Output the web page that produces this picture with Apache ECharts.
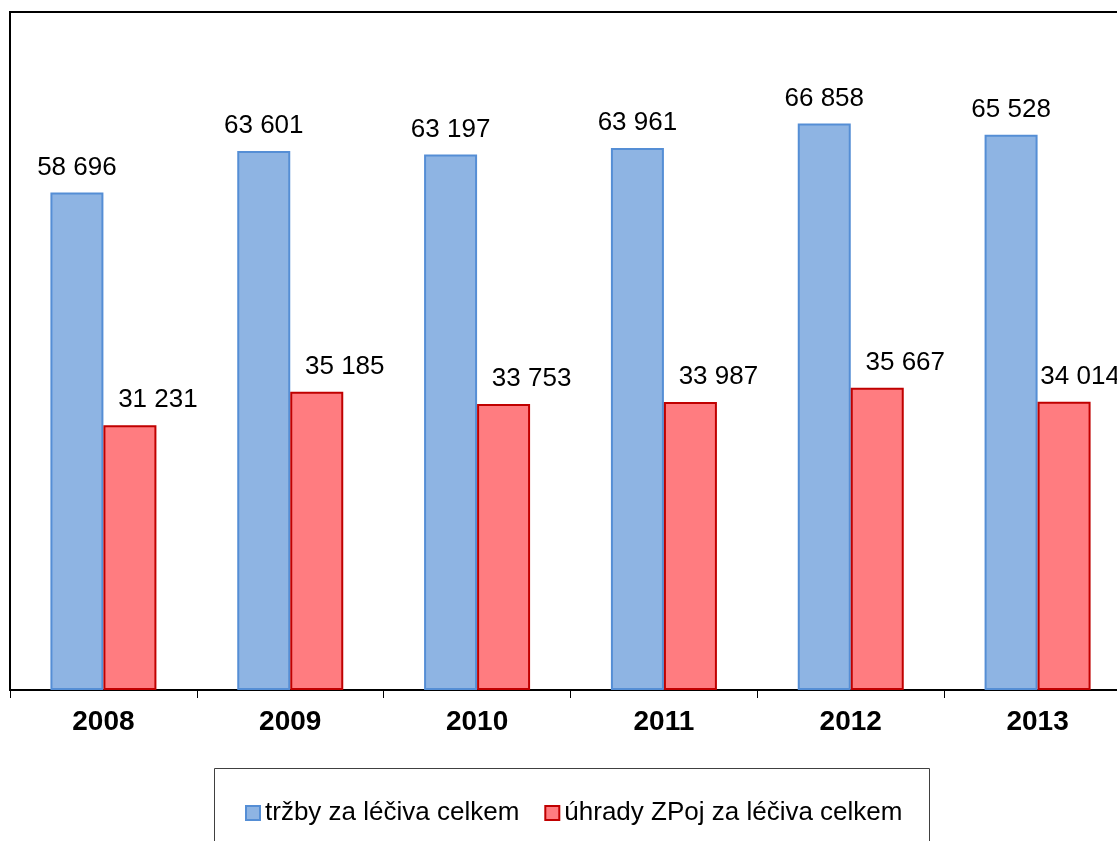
<!DOCTYPE html>
<html>
<head>
<meta charset="utf-8">
<script src="https://cdn.jsdelivr.net/npm/echarts@6/dist/echarts.min.js"></script>
<style>html,body{margin:0;padding:0;background:#fff;overflow:hidden;width:1117px;height:841px;}#c{width:1140px;height:841px;}</style>
</head>
<body>
<div id="c"></div>
<script>
const categories = ['2008', '2009', '2010', '2011', '2012', '2013'];
const seriesNames = ['tržby za léčiva celkem', 'úhrady ZPoj za léčiva celkem'];
const trzby = [58696, 63601, 63197, 63961, 66858, 65528];
const uhrady = [31231, 35185, 33753, 33987, 35667, 34014];

const FONT = '"Liberation Sans", Arial, sans-serif';
function fmt(v) {
  return String(v).replace(/\B(?=(\d{3})+(?!\d))/g, ' ');
}
const chart = echarts.init(document.getElementById('c'));
chart.setOption({
  animation: false,
  backgroundColor: '#fff',
  textStyle: { fontFamily: FONT },
  grid: {
    left: 10, top: 12, width: 1121, height: 678,
    show: true, borderColor: '#000', borderWidth: 2, backgroundColor: 'transparent'
  },
  xAxis: {
    type: 'category',
    data: categories,
    axisLine: { lineStyle: { color: '#000', width: 2 } },
    axisTick: { show: true, length: 8, lineStyle: { color: '#000', width: 1 } },
    axisLabel: { color: '#000', fontSize: 28, fontWeight: 'bold', fontFamily: FONT, margin: 18 }
  },
  yAxis: {
    type: 'value', min: 0, max: 80000,
    show: false,
    splitLine: { show: false }
  },
  legend: {
    data: seriesNames,
    left: 240, top: 795,
    icon: 'rect', itemWidth: 14, itemHeight: 14, itemGap: 25,
    textStyle: { color: '#000', fontSize: 26, fontFamily: FONT }
  },
  graphic: [{
    type: 'rect', z: -1,
    shape: { x: 214.5, y: 768.5, width: 715, height: 120 },
    style: { fill: 'none', stroke: '#404040', lineWidth: 1 }
  }],
  series: [{
    name: seriesNames[0], type: 'bar', data: trzby,
    barWidth: 53, barGap: '0%',
    itemStyle: { color: '#8EB4E3', borderColor: '#558ED5', borderWidth: 2 },
    label: { show: true, position: 'top', distance: 12, color: '#000', fontSize: 26, fontFamily: FONT, formatter: p => fmt(p.value) }
  }, {
    name: seriesNames[1], type: 'bar',
    data: uhrady.map((v, i) => i === uhrady.length - 1 ? { value: v, label: { offset: [16, 0] } } : v),
    barWidth: 53,
    itemStyle: { color: '#FF7C80', borderColor: '#C00000', borderWidth: 2 },
    label: { show: true, position: 'top', distance: 12, offset: [28, 0], color: '#000', fontSize: 26, fontFamily: FONT, formatter: p => fmt(p.value) }
  }]
});
</script>
</body>
</html>
